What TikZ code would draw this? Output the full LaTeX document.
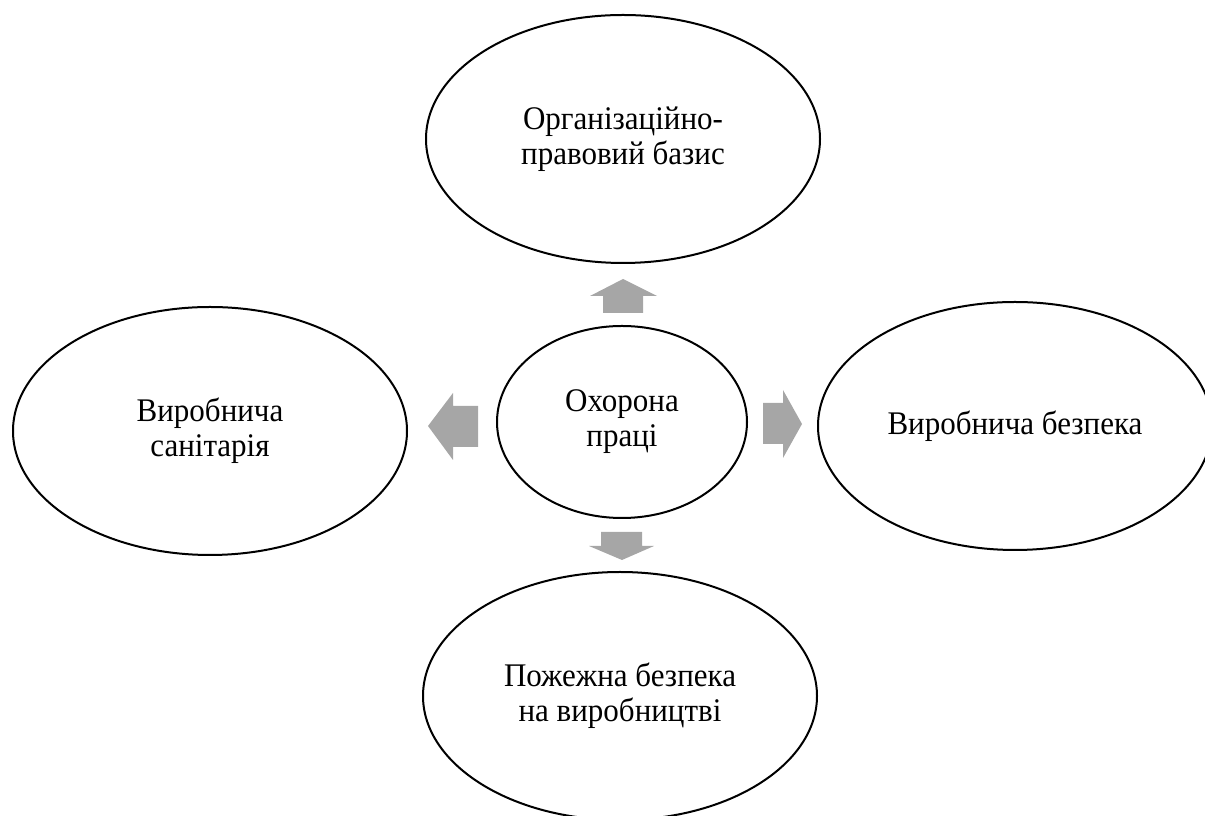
\documentclass[tikz,border=0pt]{standalone}
\usepackage{fontspec}
\setmainfont{Liberation Serif}[FakeStretch=0.94]
\usetikzlibrary{shapes.geometric}

\definecolor{arrowgray}{RGB}{166,166,166}

\tikzset{
    bubble/.style={ellipse, draw, line width=2pt, align=center,
        minimum width=394pt, minimum height=248pt, inner sep=0pt,
        font=\fontsize{33}{35}\selectfont},
    blockarrow/.style={fill=arrowgray, draw=none}
}

\begin{document}
\begin{tikzpicture}[x=1pt, y=1pt]
    \useasboundingbox (0,0) rectangle (1205,816);

    % centre and the four topics
    \node[bubble, minimum width=250pt, minimum height=192pt] (core) at (622,394) {Охорона\\праці};
    \node[bubble] (legal) at (623,677) {Організаційно-\\правовий базис};
    \node[bubble] (sanit) at (210,385) {Виробнича\\санітарія};
    \node[bubble] (safety) at (1015,390) {Виробнича безпека};
    \node[bubble] (fire) at (620,120) {Пожежна безпека\\на виробництві};

    % block arrows
    \fill[blockarrow] (603,503) -- (643,503) -- (643,520) -- (657,520) -- (623,537) -- (590,520) -- (603,520) -- cycle;
    \fill[blockarrow] (601,284) -- (642,284) -- (642,270) -- (654,270) -- (622,256) -- (589,270) -- (601,270) -- cycle;
    \fill[blockarrow] (478,410) -- (453,410) -- (453,423) -- (428,390) -- (453,356) -- (453,369) -- (478,369) -- cycle;
    \fill[blockarrow] (763,413) -- (783,413) -- (783,426) -- (802,392) -- (783,358) -- (783,372) -- (763,372) -- cycle;
\end{tikzpicture}
\end{document}
